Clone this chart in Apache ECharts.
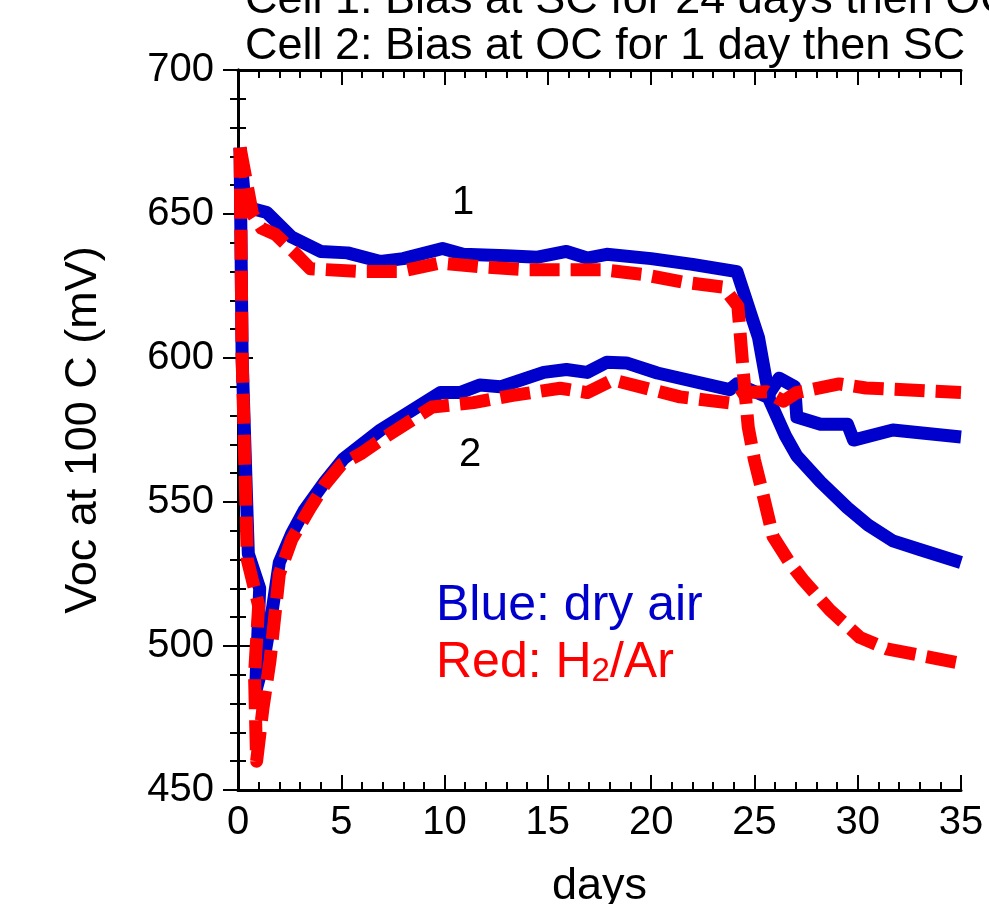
<!DOCTYPE html>
<html>
<head>
<meta charset="utf-8">
<script src="https://cdn.jsdelivr.net/npm/echarts@6/dist/echarts.min.js"></script>
<style>
html,body{margin:0;padding:0;background:#fff;overflow:hidden;}
#chart{width:989px;height:904px;}
</style>
</head>
<body>
<div id="chart"></div>
<script>
// ---- data (days, Voc mV) ----
var cell1Blue = [[0.1,673],[0.35,652.5],[1.4,650.5],[2.6,642],[4,637],[5.3,636.5],[6.9,633.5],[8,634.5],[9.9,638],[10.9,636],[13,635.5],[14.5,635],[15.9,637],[16.9,634.7],[17.85,636],[20,634.5],[22,632.5],[24.15,630],[25.2,607],[25.75,585],[26.5,573],[27.05,566],[28.2,557],[29.5,548],[30.5,542],[31.7,536.5],[33,533.5],[35,529]];
var cell1Red = [[0.1,673],[0.7,650],[1.15,645],[1.8,643],[2.75,636.5],[3.5,631],[5.9,630],[7.8,630],[9.8,633],[11.85,631.6],[14,630.6],[17.7,630.6],[19.6,629],[21.5,626.4],[23.5,624.6],[24.2,618],[24.45,596],[24.7,576],[25,564.6],[25.4,553],[25.9,538],[26.7,529],[27.35,523],[28.65,512.5],[30.1,503],[31.4,499],[35,494]];
var cell2Blue = [[0.1,673],[0.2,600],[0.5,532],[1.05,520],[0.85,484],[1.25,495],[1.65,512],[2.0,529],[2.6,539],[3.2,547],[4.2,557],[5.1,565],[6,570],[6.9,575],[9.8,588],[10.75,588],[11.7,590.6],[12.7,590],[14.8,595],[15.9,596],[16.9,595],[17.85,598.5],[18.8,598.3],[20.3,594.8],[23.8,589],[24.15,591],[25.6,586.5],[26.2,593],[26.95,590],[27.05,579.5],[28.2,577],[29.5,577],[29.8,571.5],[31.7,575],[35,572.6]];
var cell2Red = [[0.1,673],[0.2,600],[0.45,530],[1.0,514],[0.8,490],[0.9,460],[1.2,478],[1.55,495],[2,525],[2.6,537],[3.5,548],[4.2,556],[5,563],[6,567],[6.9,571.5],[9.4,583],[11.4,584.5],[13.3,587],[15.6,589.5],[16.9,588],[18.15,592.4],[21.4,586.5],[23.8,584.4],[24.6,588],[25.6,588.3],[26.4,585],[27.05,588],[29.1,591],[30.4,589.6],[35,588]];

var xRange = [0, 35];
var yRange = [450, 700];
var titleLines = ['Cell 1: Bias at SC for 24 days then OC', 'Cell 2: Bias at OC for 1 day then SC'];
var xName = 'days';
var yName = 'Voc at 100 C (mV)';
var curveLabels = ['1', '2'];

var FONT = '"Liberation Sans", Arial, Helvetica, sans-serif';
var BLUE = '#0000CC';
var RED = '#FF0000';

var chart = echarts.init(document.getElementById('chart'), null, {renderer: 'canvas', width: 989, height: 904});

function axisCommon(showLabel) {
  return {
    axisLine: {show: true, lineStyle: {color: '#000', width: 3}},
    axisTick: {show: true, inside: true, length: 15, lineStyle: {color: '#000', width: 2}},
    minorTick: {show: true, splitNumber: 5, length: 8, lineStyle: {color: '#000', width: 2}},
    splitLine: {show: false},
    minorSplitLine: {show: false},
    axisLabel: {show: showLabel, color: '#000', fontFamily: FONT, fontSize: 40}
  };
}

var xBottom = Object.assign(axisCommon(true), {
  type: 'value', position: 'bottom', min: xRange[0], max: xRange[1], interval: 5,
  name: xName, nameLocation: 'middle', nameGap: 74,
  nameTextStyle: {color: '#000', fontFamily: FONT, fontSize: 45}
});
xBottom.axisLabel.margin = 13;
var xTop = Object.assign(axisCommon(false), {
  type: 'value', position: 'top', min: xRange[0], max: xRange[1], interval: 5
});
var yLeft = Object.assign(axisCommon(true), {
  type: 'value', position: 'left', min: yRange[0], max: yRange[1], interval: 50,
  name: yName, nameLocation: 'middle', nameGap: 132,
  nameTextStyle: {color: '#000', fontFamily: FONT, fontSize: 45}
});
yLeft.axisLabel.margin = 24;
var yRight = Object.assign(axisCommon(false), {
  type: 'value', position: 'right', min: yRange[0], max: yRange[1], interval: 50
});

function lineSeries(name, data, color, dashed) {
  return {
    name: name, type: 'line', data: data, xAxisIndex: 0, yAxisIndex: 0,
    showSymbol: false, symbol: 'none', smooth: false, clip: false,
    lineStyle: {color: color, width: 13, type: dashed ? [30, 11] : 'solid', cap: 'butt', join: 'round'},
    z: dashed ? 3 : 2
  };
}

var option = {
  backgroundColor: '#fff',
  animation: false,
  grid: {left: 238, width: 723, top: 70, height: 720, containLabel: false, outerBoundsMode: 'none'},
  title: [
    {text: titleLines[0], left: 245, top: -22, padding: 0,
     textStyle: {color: '#000', fontFamily: FONT, fontSize: 45, fontWeight: 'normal', lineHeight: 45}},
    {text: titleLines[1], left: 245, top: 24, padding: 0,
     textStyle: {color: '#000', fontFamily: FONT, fontSize: 45, fontWeight: 'normal', lineHeight: 45}},
    {text: curveLabels[0], left: 452, top: 183, padding: 0,
     textStyle: {color: '#000', fontFamily: FONT, fontSize: 40, fontWeight: 'normal', lineHeight: 40}},
    {text: curveLabels[1], left: 459, top: 435, padding: 0,
     textStyle: {color: '#000', fontFamily: FONT, fontSize: 40, fontWeight: 'normal', lineHeight: 40}},
    {text: 'Blue: dry air', left: 436, top: 581, padding: 0,
     textStyle: {color: BLUE, fontFamily: FONT, fontSize: 50, fontWeight: 'normal', lineHeight: 50}},
    {text: '{a|Red: H}{s|2}{a|/Ar}', left: 436, top: 638, padding: 0,
     textStyle: {fontWeight: 'normal', rich: {
       a: {color: RED, fontFamily: FONT, fontSize: 50, fontWeight: 'normal', lineHeight: 50, verticalAlign: 'bottom'},
       s: {color: RED, fontFamily: FONT, fontSize: 33, fontWeight: 'normal', lineHeight: 50, padding: [24, 0, 0, 0], verticalAlign: 'bottom'}
     }}}
  ],
  xAxis: [xBottom, xTop],
  yAxis: [yLeft, yRight],
  series: [
    lineSeries('Cell 1 dry air', cell1Blue, BLUE, false),
    lineSeries('Cell 2 dry air', cell2Blue, BLUE, false),
    lineSeries('Cell 1 H2/Ar', cell1Red, RED, true),
    lineSeries('Cell 2 H2/Ar', cell2Red, RED, true)
  ]
};
chart.setOption(option);
</script>
</body>
</html>
